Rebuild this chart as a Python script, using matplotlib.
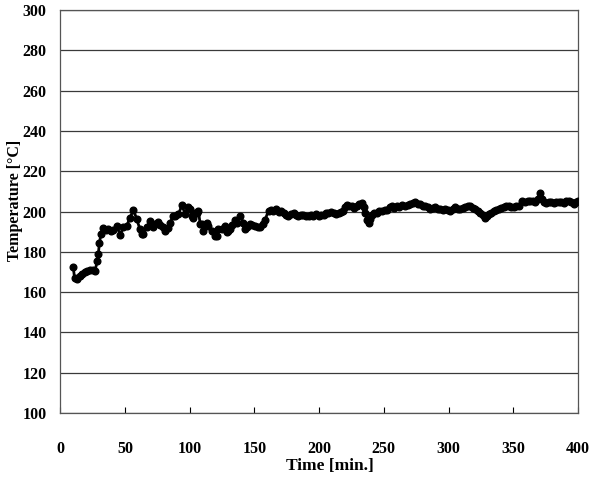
import matplotlib
matplotlib.use("Agg")
import matplotlib.pyplot as plt

time_min = [10, 11, 12.7, 15, 17, 19, 21, 23, 25, 26.8, 28.6, 29.4, 30.2, 31.5, 33.3, 35, 37, 39, 41,
            43.6, 46.2, 48.7, 51.3, 53.9, 56.5, 59, 61.6, 63, 64.2, 66.8, 69.4, 71.9, 73.2, 75.8, 77,
            79.7, 81, 83, 84.8, 87.4, 89, 91.3, 93.9, 96.4, 99, 100.3, 101.6, 102.9, 104.2, 105.5,
            106.7, 108.1, 109.3, 110.6, 113.2, 114.5, 117.1, 119.6, 121, 122.2, 124.8, 127.4, 128.7,
            129.9, 131.2, 132.5, 135.1, 136.4, 139, 141.5, 142.9, 144.1, 146.7, 148.5, 150.6, 152.5,
            154.5, 156.5, 158.3, 160.9, 162.8, 164.7, 166.6, 168.6, 170.5, 172.5, 174.4, 176.3, 178.2,
            180.2, 182, 184, 186, 187.9, 189.8, 191.8, 193.7, 195.6, 197.6, 199.5, 201.5, 203.4, 205.3,
            207.2, 209.2, 211.1, 213, 215, 216.9, 218.8, 220, 221.4, 223.4, 225.3, 227.2, 229.2, 231,
            233, 234.3, 235.6, 237, 238.2, 239.5, 240.8, 242.7, 244.7, 246.6, 248.6, 250.5, 252.4,
            254.4, 256.3, 258.2, 260.2, 262, 264, 266.6, 268.5, 270.5, 272.4, 274.3, 276.3, 278.2,
            280.1, 282.1, 284, 285.9, 287.8, 289.8, 291.7, 293.7, 295.6, 297.5, 299.5, 301.4, 303.3,
            305.3, 307.2, 309.1, 311, 313, 315, 316.9, 318.8, 320.7, 322.6, 324.6, 326.5, 328.5, 329.8,
            331, 333, 334.9, 336.8, 338.8, 340.7, 342.6, 344.5, 346.5, 348.4, 350.4, 352.3, 354.2,
            356.8, 359.4, 361.3, 363.3, 365.2, 367.1, 369, 371, 372.3, 373.6, 375.5, 377.4, 379.4,
            381.3, 383.2, 385.2, 387, 389, 391, 392.9, 394.8, 396.8, 398.5, 400]

temperature_c = [172.5, 167, 166.5, 168, 169, 169.8, 170.5, 171, 171, 170.6, 175.5, 178.9, 184.6, 188.8,
                 191.6, 191, 191.2, 190.5, 190.7, 192.9, 188.5, 192.1, 192.9, 197, 201, 196.2, 191.2,
                 188.8, 189, 192.1, 195.4, 192.5, 193.7, 194.6, 193.5, 192.1, 190.4, 192, 194.5, 197.8,
                 197.8, 198.7, 203, 199, 202, 201.1, 197.8, 197, 199.5, 199.5, 200.3, 193.7, 193.7,
                 190.4, 194.5, 192.9, 190.5, 187.9, 188, 191.2, 191.5, 193, 189.6, 190.4, 191.1, 193.5,
                 196, 194.5, 197.8, 194.5, 191.1, 192.1, 194, 193.3, 192.8, 192.5, 192.4, 194, 196,
                 200.5, 201, 200.1, 201.2, 199.8, 200.4, 199.3, 198.2, 197.6, 198.8, 199.3, 198.2,
                 197.6, 198.5, 198.5, 197.8, 197.6, 198.4, 197.6, 198.6, 197.6, 198.2, 198.5, 199.4, 199.3, 199.8,
                 199.3, 198.9, 199.3, 199.9, 200.1, 202, 203.4, 202.6, 202.6, 201.8, 202.6, 203.5, 204.3, 202,
                 199.3, 196, 194.4, 196.5, 198.5, 199.4, 199.3, 200.2, 200.1, 200.9, 201, 202.2, 202.6, 201.8,
                 202.6, 202.2, 203.4, 202.6, 203.2, 203.7, 204.2, 204.5, 203.8, 203.7, 202.8, 202.8, 202, 201.2,
                 201.8, 202, 201.3, 201.2, 200.8, 201.4, 200.8, 200.3, 201.2, 202, 201.4, 201.2, 201.8, 202,
                 202.7, 202.8, 201.8, 201.2, 200.5, 199.5, 198.2, 197, 198, 198.7, 199.5, 200.3, 200.8,
                 201.2, 201.7, 202, 202.6, 202.8, 202.3, 202, 202.7, 202.8, 205.3, 204.5, 205, 205.3,
                 205, 204.5, 206, 209.4, 206, 204.5, 204.2, 204.7, 204.8, 204.3, 204.7, 204.5, 204.8,
                 204.3, 205, 205.3, 204.5, 203.7, 204.5, 205.3]

x_ticks = [0, 50, 100, 150, 200, 250, 300, 350, 400]
y_ticks = [100, 120, 140, 160, 180, 200, 220, 240, 260, 280, 300]

serif = ["Liberation Serif", "DejaVu Serif"]

fig = plt.figure(figsize=(5.89, 4.79), dpi=100)
ax = fig.add_axes([0.1024, 0.1378, 0.8789, 0.8412])

ax.plot(time_min, temperature_c, color="black", lw=2.0, marker="o", ms=4.8,
        markerfacecolor="black", markeredgecolor="black", zorder=3)

ax.set_xlim(0, 400)
ax.set_ylim(100, 300)
ax.set_xticks(x_ticks)
ax.set_yticks(y_ticks)
ax.yaxis.grid(True, color="#3a3a3a", lw=0.9)
ax.set_axisbelow(True)

for s in ax.spines.values():
    s.set_color("#555555")
    s.set_linewidth(0.9)

ax.tick_params(axis="x", direction="in", length=4, width=0.8, pad=20, colors="black")
ax.tick_params(axis="y", direction="in", length=0, pad=10, colors="black")
for lab in ax.get_xticklabels() + ax.get_yticklabels():
    lab.set_family(serif)
    lab.set_fontweight("bold")
    lab.set_fontsize(11.5)

xl = ax.set_xlabel("Time [min.]", family=serif, fontweight="bold", fontsize=12.5)
xl.set_va("center")
ax.xaxis.set_label_coords(0.521, -0.131)
yl = ax.set_ylabel("Temperature [°C]", family=serif, fontweight="bold", fontsize=11.5)
yl.set_va("center")
ax.yaxis.set_label_coords(-0.087, 0.528)

fig.savefig("out.png", dpi=100)
